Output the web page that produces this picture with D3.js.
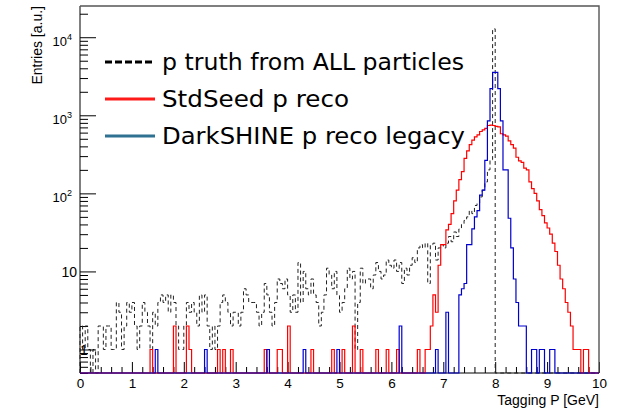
<!DOCTYPE html>
<html>
<head>
<meta charset="utf-8">
<script src="https://cdn.jsdelivr.net/npm/d3@7"></script>
<style>
  body { margin: 0; background: #fff; }
  svg { display: block; }
</style>
</head>
<body>
<svg id="chart" width="617" height="408"></svg>
<script>
// binning: 200 bins from 0 to 10 GeV
const binLow = 0, binHigh = 10;

// p truth from ALL particles (dashed black)
const truthAll = [
  2, 1, 2, 1, 0, 1, 0, 2, 2, 1, 2, 2, 1, 1, 4, 3, 1, 2, 4, 3,
  4, 2, 1, 2, 4, 3, 2, 1, 3, 2, 4, 5, 4, 5, 3, 5, 4, 2, 1, 1,
  2, 4, 3, 4, 3, 2, 5, 3, 5, 2, 1, 2, 1, 2, 4, 5, 4, 3, 2, 3,
  3, 2, 3, 6, 5, 4, 4, 4, 3, 2, 3, 7, 5, 3, 2, 4, 8, 7, 6, 8,
  5, 3, 5, 3, 13, 4, 10, 6, 5, 8, 5, 4, 2, 3, 5, 11, 9, 6, 10, 5,
  3, 4, 6, 11, 8, 10, 1, 4, 11, 7, 8, 8, 6, 9, 13, 10, 8, 9, 14, 12,
  11, 14, 10, 13, 7, 11, 9, 12, 15, 13, 20, 22, 20, 23, 7, 22, 23, 14, 20, 22,
  20, 23, 28, 24, 32, 28, 35, 40, 45, 50, 60, 55, 70, 75, 90, 110, 140, 200, 270, 12800,
  0, 0, 0, 0, 0, 0, 0, 0, 0, 0, 0, 0, 0, 0, 0, 0, 0, 0, 0, 0,
  0, 0, 0, 0, 0, 0, 0, 0, 0, 0, 0, 0, 0, 0, 0, 0, 0, 0, 0, 0
];

// StdSeed p reco (red)
const stdSeed = [
  0, 0, 0, 0, 0, 0, 0, 0, 0, 0, 0, 0, 0, 0, 0, 0, 0, 0, 0, 0,
  0, 0, 0, 0, 0, 0, 0, 1, 0, 0, 0, 0, 0, 0, 0, 0, 2, 0, 0, 0,
  0, 2, 1, 0, 0, 0, 0, 0, 0, 0, 0, 0, 0, 1, 0, 1, 0, 0, 1, 0,
  0, 0, 0, 0, 0, 0, 0, 0, 0, 0, 0, 1, 0, 0, 0, 0, 1, 1, 0, 0,
  2, 0, 0, 0, 0, 0, 0, 0, 0, 1, 0, 0, 0, 0, 0, 0, 0, 1, 0, 0,
  0, 1, 0, 0, 0, 2, 0, 0, 1, 0, 0, 0, 0, 0, 1, 0, 0, 0, 1, 0,
  0, 0, 1, 0, 0, 0, 0, 0, 0, 0, 1, 0, 0, 1, 1, 2, 5, 3, 12, 22,
  22, 34, 40, 55, 80, 110, 150, 190, 280, 350, 420, 480, 530, 560, 620, 650, 680, 740, 750, 740,
  720, 710, 580, 560, 540, 470, 420, 380, 290, 260, 250, 210, 200, 140, 115, 100, 80, 62, 52, 42,
  36, 30, 23, 18, 12, 8, 6, 4, 3, 2, 1, 1, 1, 0, 1, 1, 0, 0, 0, 0
];

// DarkSHINE p reco legacy (blue)
const darkShine = [
  0, 0, 0, 0, 0, 0, 0, 0, 0, 0, 0, 0, 0, 0, 0, 0, 0, 0, 0, 0,
  0, 0, 0, 0, 0, 0, 0, 0, 0, 1, 0, 0, 0, 0, 0, 0, 0, 0, 0, 0,
  0, 0, 0, 0, 0, 0, 0, 0, 1, 0, 0, 0, 0, 0, 0, 0, 0, 0, 0, 0,
  0, 0, 0, 0, 0, 0, 0, 0, 0, 0, 0, 0, 1, 0, 0, 0, 0, 0, 0, 0,
  0, 0, 0, 0, 0, 0, 1, 0, 0, 0, 0, 0, 0, 0, 0, 0, 0, 0, 0, 1,
  0, 0, 0, 0, 0, 0, 0, 0, 0, 0, 0, 0, 0, 0, 0, 0, 0, 0, 0, 0,
  0, 0, 0, 2, 0, 0, 0, 0, 0, 0, 0, 0, 0, 0, 0, 0, 0, 1, 0, 0,
  0, 3, 0, 0, 0, 0, 5, 6, 7, 22, 22, 35, 50, 60, 95, 110, 265, 850, 2200, 3550,
  3550, 2200, 850, 200, 200, 48, 20, 8, 4, 2, 2, 2, 0, 0, 1, 1, 0, 1, 1, 0,
  0, 1, 1, 0, 0, 0, 0, 0, 0, 0, 0, 0, 0, 0, 0, 0, 0, 0, 0, 0
];

const xTickValues = [0, 1, 2, 3, 4, 5, 6, 7, 8, 9, 10];
const yDecades = [1, 10, 100, 1000, 10000];
const yLabels = ['1', '10', '10|2', '10|3', '10|4'];
const legendLabels = ['p truth from ALL particles', 'StdSeed p reco', 'DarkSHINE p reco legacy'];

const frame = { left: 80, right: 599, top: 6, bottom: 373 };
const svg = d3.select('#chart');

const x = d3.scaleLinear().domain([binLow, binHigh]).range([frame.left, frame.right]);
const y = d3.scaleLog().domain([0.5, 25119]).range([frame.bottom, frame.top]).clamp(true);

// x axis: major ticks on integers, minor every 0.2 (inward)
const minorX = d3.range(0, 50).map(i => i * 0.2).filter(v => Math.abs(v - Math.round(v)) > 1e-6);
svg.append('g')
    .attr('transform', `translate(0,${frame.bottom})`)
    .call(d3.axisBottom(x).tickValues(minorX).tickSize(-6).tickFormat(''))
    .call(g => g.select('.domain').remove());
svg.append('g')
    .attr('transform', `translate(0,${frame.bottom})`)
    .call(d3.axisBottom(x).tickValues(xTickValues).tickSize(-11).tickPadding(5).tickFormat(d3.format('d')))
    .call(g => g.select('.domain').remove())
    .call(g => g.selectAll('text').attr('font-family', 'Liberation Sans, Arial, sans-serif').attr('font-size', 13.5).attr('fill', '#000'));

// y axis (log): minor ticks 2..9 per decade
const minorY = [];
[0.1, 1, 10, 100, 1000, 10000].forEach(d => [2, 3, 4, 5, 6, 7, 8, 9].forEach(m => minorY.push(d * m)));
svg.append('g')
    .attr('transform', `translate(${frame.left},0)`)
    .call(d3.axisLeft(y).tickValues(minorY.filter(v => v >= 0.5 && v <= 25119)).tickSize(-8).tickFormat(''))
    .call(g => g.select('.domain').remove());
const yAx = svg.append('g')
    .attr('transform', `translate(${frame.left},0)`)
    .call(d3.axisLeft(y).tickValues(yDecades).tickSize(-16).tickPadding(4).tickFormat(''))
    .call(g => g.select('.domain').remove());

yAx.selectAll('.tick').each(function (d, i) {
    const parts = yLabels[i].split('|');
    const t = d3.select(this).select('text')
        .attr('font-family', 'Liberation Sans, Arial, sans-serif')
        .attr('fill', '#000')
        .attr('text-anchor', 'end');
    if (d === 1) {
        // ROOT puts the "1" label right on the axis
        t.attr('x', 4).attr('text-anchor', 'middle').attr('dy', '0.35em').attr('font-size', 14).text(parts[0]);
    } else if (parts.length === 1) {
        t.attr('x', -3).attr('dy', '0.35em').attr('font-size', 14).text(parts[0]);
    } else {
        t.attr('x', -8).attr('dy', '0.6em').attr('font-size', 13);
        t.append('tspan').text(parts[0]);
        t.append('tspan').attr('dy', '-0.65em').attr('font-size', 9).text(parts[1]);
    }
});

// axis lines
svg.append('line').attr('x1', frame.left).attr('x2', frame.left).attr('y1', frame.top).attr('y2', frame.bottom).attr('stroke', '#000');
svg.append('line').attr('x1', frame.left).attr('x2', frame.right).attr('y1', frame.bottom).attr('y2', frame.bottom).attr('stroke', '#000');
svg.append('path')
    .attr('d', `M${frame.left},${frame.top}H${frame.right}V${frame.bottom}`)
    .attr('fill', 'none').attr('stroke', '#555').attr('stroke-width', 1.4);

// histograms as step outlines
function histPoints(vals) {
    const bw = (binHigh - binLow) / vals.length;
    const pts = [[x(binLow), frame.bottom]];
    vals.forEach((v, i) => {
        const yy = v > 0 ? y(v) : frame.bottom;
        pts.push([x(binLow + i * bw), yy]);
        pts.push([x(binLow + (i + 1) * bw), yy]);
    });
    pts.push([x(binHigh), frame.bottom]);
    return pts;
}
const line = d3.line();

svg.append('path').attr('d', line(histPoints(truthAll)))
    .attr('fill', 'none').attr('stroke', '#222').attr('stroke-width', 1).attr('stroke-dasharray', '4,3');
svg.append('path').attr('d', line(histPoints(stdSeed)))
    .attr('fill', 'none').attr('stroke', '#ff0000').attr('stroke-width', 1.2);
svg.append('path').attr('d', line(histPoints(darkShine)))
    .attr('fill', 'none').attr('stroke', '#0000cc').attr('stroke-width', 1.2);

// keep the y labels (the "1" sits inside the frame) above the histograms
yAx.raise();

// axis titles
svg.append('text')
    .attr('transform', `translate(42,${frame.top}) rotate(-90)`)
    .attr('text-anchor', 'end')
    .attr('font-family', 'Liberation Sans, Arial, sans-serif')
    .attr('font-size', 14)
    .text('Entries [a.u.]');
svg.append('text')
    .attr('x', frame.right).attr('y', 405)
    .attr('text-anchor', 'end')
    .attr('font-family', 'Liberation Sans, Arial, sans-serif')
    .attr('font-size', 14)
    .text('Tagging P [GeV]');

// legend
const legendStyles = [
    { color: '#000', dash: '7,3' },
    { color: '#ff1a1a', dash: null },
    { color: '#2f7190', dash: null }
];
const legendWidths = [302, 187, 303];
const legend = svg.append('g');
legendLabels.forEach((lab, i) => {
    const ly = 62 + i * 37;
    legend.append('line')
        .attr('x1', 105).attr('x2', 155).attr('y1', ly).attr('y2', ly)
        .attr('stroke', legendStyles[i].color).attr('stroke-width', 3)
        .attr('stroke-dasharray', legendStyles[i].dash);
    legend.append('text')
        .attr('x', 162).attr('y', ly + 8)
        .attr('font-family', 'DejaVu Sans, sans-serif')
        .attr('font-size', 23)
        .attr('textLength', legendWidths[i])
        .attr('lengthAdjust', 'spacingAndGlyphs')
        .text(lab);
});
</script>
</body>
</html>
